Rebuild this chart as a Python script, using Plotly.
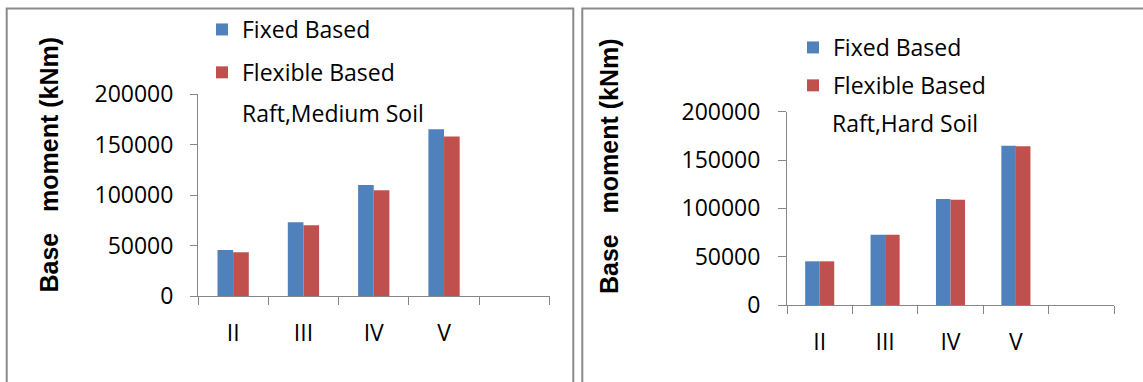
import plotly.graph_objects as go

W, H = 1143, 382

categories = ["II", "III", "IV", "V"]
series_names = ["Fixed Based", "Flexible Based"]
medium_fixed = [45500, 73000, 110000, 165000]
medium_flexible = [43300, 70000, 104700, 157800]
hard_fixed = [45200, 72700, 109700, 164800]
hard_flexible = [45200, 72700, 109000, 164200]
y_ticks = [0, 50000, 100000, 150000, 200000]
y_tick_labels = ["0", "50000", "100000", "150000", "200000"]
y_title = "Base\u00a0\u00a0 moment (kNm)"
panel_notes = ["Raft,Medium Soil", "Raft,Hard Soil"]

BLUE = "#4F81BD"
RED = "#C0504D"
AXIS = "#868686"
FONT = "Open Sans"


def px(x):
    return x / W


def py(y):
    return 1 - y / H


# padding category so the axis shows an empty fifth slot
x_cats = categories + [" "]

fig = go.Figure()

panels = [
    dict(fixed=medium_fixed, flex=medium_flexible, xa="x", ya="y", legend="legend"),
    dict(fixed=hard_fixed, flex=hard_flexible, xa="x2", ya="y2", legend="legend2"),
]
for p in panels:
    for name, vals, col in [(series_names[0], p["fixed"], BLUE), (series_names[1], p["flex"], RED)]:
        fig.add_trace(go.Bar(
            x=x_cats, y=vals + [None], name=name,
            marker=dict(color=col, line=dict(width=0)),
            xaxis=p["xa"], yaxis=p["ya"], legend=p["legend"],
            legendgroup=name + p["legend"],
        ))

axis_common = dict(showgrid=False, zeroline=False, showline=True, linecolor=AXIS,
                   linewidth=1, ticks="outside", tickcolor=AXIS, tickwidth=1,
                   automargin=False,
                   tickfont=dict(family=FONT, size=23, color="#000"))

fig.update_layout(
    width=W, height=H,
    margin=dict(l=0, r=0, t=0, b=0, pad=0, autoexpand=False),
    paper_bgcolor="white", plot_bgcolor="white",
    barmode="group", bargap=0.555, bargroupgap=0,
    xaxis=dict(domain=[px(198), px(549.5)], anchor="y", type="category",
               categoryorder="array", categoryarray=x_cats, range=[-0.5, 4.5],
               tickson="boundaries", ticklen=8, ticklabelstandoff=16, **axis_common),
    yaxis=dict(domain=[py(296), py(94)], anchor="x", range=[0, 200000],
               tickvals=y_ticks, ticktext=y_tick_labels, ticklen=7,
               ticklabelstandoff=12, **axis_common),
    xaxis2=dict(domain=[px(787), px(1114)], anchor="y2", type="category",
                categoryorder="array", categoryarray=x_cats, range=[-0.5, 4.5],
                tickson="boundaries", ticklen=8, ticklabelstandoff=16, **axis_common),
    yaxis2=dict(domain=[py(305), py(111.7)], anchor="x2", range=[0, 200000],
                tickvals=y_ticks, ticktext=y_tick_labels, ticklen=8,
                ticklabelstandoff=13, **axis_common),
    legend=dict(x=px(202), y=py(8), xanchor="left", yanchor="top",
                font=dict(family=FONT, size=23, color="#000"),
                tracegroupgap=10, bgcolor="rgba(0,0,0,0)"),
    legend2=dict(x=px(793), y=py(26), xanchor="left", yanchor="top",
                 font=dict(family=FONT, size=23, color="#000"),
                 tracegroupgap=5, bgcolor="rgba(0,0,0,0)"),
    showlegend=True,
)

# panel borders
border = dict(color="#8a8a8a", width=2)
fig.add_shape(type="rect", xref="paper", yref="paper",
              x0=px(6.7), x1=px(573.3), y0=py(400), y1=py(8.5), line=border)
fig.add_shape(type="rect", xref="paper", yref="paper",
              x0=px(582.3), x1=px(1160), y0=py(400), y1=py(8.5), line=border)

# y-axis titles
for xc, yc in [(32.5, 165), (609, 166)]:
    fig.add_annotation(xref="paper", yref="paper", x=px(xc), y=py(yc),
                       text="<b>" + y_title + "</b>", textangle=-90, showarrow=False,
                       font=dict(family="Liberation Sans", size=25, color="#000"))

# notes
for (xl, yc), note in zip([(240, 113), (830, 123)], panel_notes):
    fig.add_annotation(xref="paper", yref="paper", x=px(xl), y=py(yc), xanchor="left",
                       yanchor="middle", text=note, showarrow=False,
                       font=dict(family=FONT, size=23, color="#000"))

fig.write_html("out.html", config={"displayModeBar": False},
               post_script="document.body.style.margin='0';"
                           "document.body.style.overflow='hidden';")
